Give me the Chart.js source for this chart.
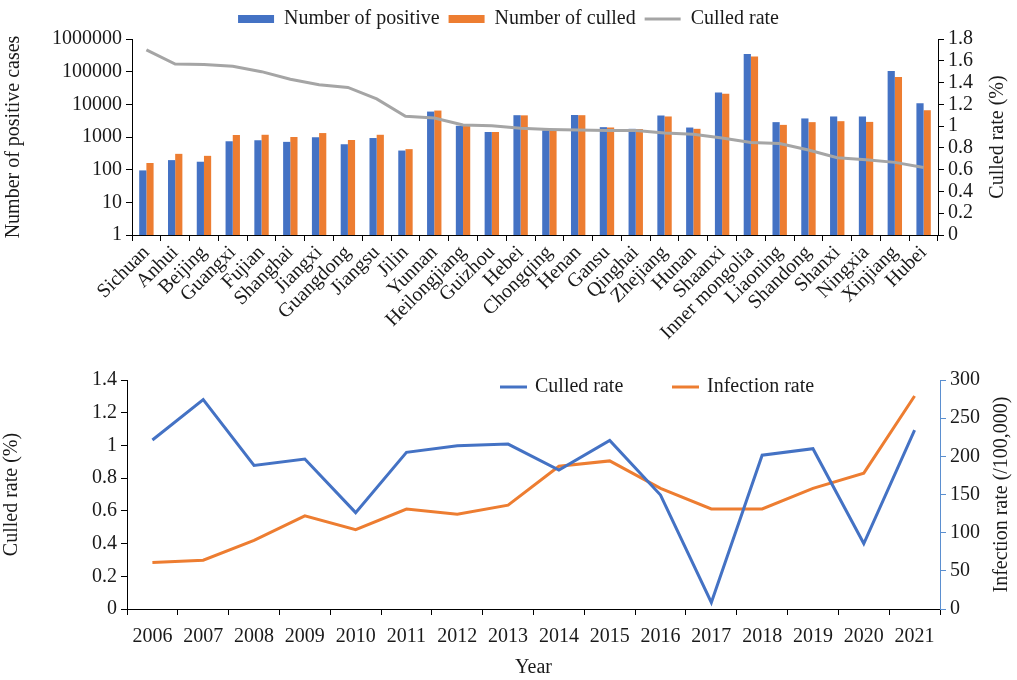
<!DOCTYPE html>
<html>
<head>
<meta charset="utf-8">
<script src="https://cdn.jsdelivr.net/npm/chart.js@4"></script>
<style>
  body { margin: 0; background: #fff; }
  #wrap { position: relative; width: 1017px; height: 680px; }
  #topBox { position: absolute; left: 0; top: 0; width: 1017px; height: 345px; }
  #botBox { position: absolute; left: 0; top: 345px; width: 1017px; height: 335px; }
</style>
</head>
<body>
<div id="wrap">
  <div id="topBox"><canvas id="provChart"></canvas></div>
  <div id="botBox"><canvas id="yearChart"></canvas></div>
</div>
<script>
// top chart data (by province)
const provinces = ['Sichuan', 'Anhui', 'Beijing', 'Guangxi', 'Fujian', 'Shanghai', 'Jiangxi', 'Guangdong', 'Jiangsu', 'Jilin',
    'Yunnan', 'Heilongjiang', 'Guizhou', 'Hebei', 'Chongqing', 'Henan', 'Gansu', 'Qinghai', 'Zhejiang', 'Hunan',
    'Shaanxi', 'Inner mongolia', 'Liaoning', 'Shandong', 'Shanxi', 'Ningxia', 'Xinjiang', 'Hubei'];
const positiveNum = [95, 196, 175, 740, 795, 710, 980, 600, 930, 385,
    6000, 2200, 1420, 4650, 1600, 4750, 2000, 1780, 4550, 1950,
    23000, 345000, 2850, 3700, 4250, 4250, 105000, 10700];
const culledNum = [160, 305, 265, 1150, 1170, 1000, 1320, 810, 1170, 425,
    6450, 2200, 1420, 4600, 1570, 4650, 1950, 1750, 4250, 1780,
    21000, 290000, 2350, 2850, 3050, 2900, 69000, 6600];
const provCulledRate = [1.70, 1.57, 1.566, 1.55, 1.50, 1.43, 1.38, 1.355, 1.25, 1.09,
    1.075, 1.01, 1.003, 0.98, 0.97, 0.964, 0.96, 0.96, 0.936, 0.925,
    0.89, 0.85, 0.84, 0.78, 0.71, 0.69, 0.667, 0.62];
const logTicks = [1, 10, 100, 1000, 10000, 100000, 1000000];

// bottom chart data (by year)
const years = ['2006', '2007', '2008', '2009', '2010', '2011', '2012', '2013',
    '2014', '2015', '2016', '2017', '2018', '2019', '2020', '2021'];
const yearCulledRate = [1.033, 1.28, 0.878, 0.917, 0.589, 0.958, 0.998, 1.008,
    0.85, 1.03, 0.697, 0.04, 0.94, 0.98, 0.40, 1.094];
const infectionRate = [61, 64, 90, 122, 104, 131, 124, 136,
    187, 194, 158, 131, 131, 158, 178, 279];

const BLUE = '#4472C4';
const ORANGE = '#ED7D31';
const GREY = '#A5A5A5';
const TXT = '#1a1a1a';
const FONT = "'Liberation Serif', 'Times New Roman', serif";

Chart.defaults.font.family = FONT;
Chart.defaults.font.size = 20;
Chart.defaults.color = TXT;
Chart.defaults.animation = false;

function oneDecimal(v) {
    return String(Math.round(v * 10) / 10);
}

// axis look shared by both charts: outward ticks, no gridlines inside
function axisGrid(col) {
    return { drawOnChartArea: false, drawTicks: true, tickLength: 6, color: col || '#000' };
}

// right axis title, read bottom-to-top like the left one
const rightTitle = {
    id: 'rightTitle',
    afterDraw(chart, args, opts) {
        if (!opts || !opts.text) return;
        const ctx = chart.ctx;
        const area = chart.chartArea;
        ctx.save();
        ctx.font = '20px ' + FONT;
        ctx.fillStyle = TXT;
        ctx.textAlign = 'center';
        ctx.textBaseline = 'middle';
        ctx.translate(chart.width - opts.offset, (area.top + area.bottom) / 2);
        ctx.rotate(-Math.PI / 2);
        ctx.fillText(opts.text, 0, 0);
        ctx.restore();
    }
};

const provChart = new Chart(document.getElementById('provChart'), {
    type: 'bar',
    data: {
        labels: provinces,
        datasets: [
            { label: 'Number of positive', data: positiveNum, backgroundColor: BLUE, yAxisID: 'y', order: 1,
              barPercentage: 1, categoryPercentage: 0.5, pointStyle: 'rect' },
            { label: 'Number of culled', data: culledNum, backgroundColor: ORANGE, yAxisID: 'y', order: 1,
              barPercentage: 1, categoryPercentage: 0.5, pointStyle: 'rect' },
            { type: 'line', label: 'Culled rate', data: provCulledRate, borderColor: GREY, backgroundColor: GREY,
              borderWidth: 3, pointRadius: 0, tension: 0, yAxisID: 'y1', order: 0, pointStyle: 'line' }
        ]
    },
    plugins: [rightTitle],
    options: {
        responsive: true,
        maintainAspectRatio: false,
        layout: { padding: { top: 0, bottom: 0, left: 0, right: 0 } },
        plugins: {
            legend: {
                position: 'top',
                labels: {
                    usePointStyle: true, pointStyleWidth: 36, boxHeight: 8, padding: 9, color: TXT,
                    sort: (a, b) => a.datasetIndex - b.datasetIndex
                }
            },
            tooltip: { enabled: false },
            rightTitle: { text: 'Culled rate (%)', offset: 19 }
        },
        scales: {
            x: {
                grid: axisGrid(),
                border: { color: '#000', width: 1 },
                ticks: { maxRotation: 45, minRotation: 45, autoSkip: false, padding: 0 },
                afterFit: s => { s.height = 110; }
            },
            y: {
                type: 'logarithmic',
                position: 'left',
                min: 1,
                max: 1000000,
                grid: axisGrid(),
                border: { color: '#000', width: 1 },
                afterBuildTicks: axis => { axis.ticks = logTicks.map(v => ({ value: v })); },
                ticks: { callback: v => String(v), padding: 4, autoSkip: false },
                title: { display: true, text: 'Number of positive cases', padding: { top: 2, bottom: 4 } },
                afterFit: s => { s.width = 132; }
            },
            y1: {
                position: 'right',
                min: 0,
                max: 1.8,
                grid: axisGrid(),
                border: { color: '#000', width: 1 },
                ticks: { stepSize: 0.2, callback: oneDecimal, padding: 4, autoSkip: false },
                afterFit: s => { s.width = 79; }
            }
        }
    }
});

// legend sitting inside the plot of the lower chart
const innerLegend = {
    id: 'innerLegend',
    afterDraw(chart) {
        const ctx = chart.ctx;
        const area = chart.chartArea;
        const y = area.top + 7;
        const items = [
            { x: area.left + 373, col: BLUE, text: chart.data.datasets[0].label },
            { x: area.left + 545, col: ORANGE, text: chart.data.datasets[1].label }
        ];
        ctx.save();
        ctx.font = '20px ' + FONT;
        ctx.textBaseline = 'middle';
        ctx.fillStyle = TXT;
        items.forEach(it => {
            ctx.strokeStyle = it.col;
            ctx.lineWidth = 3;
            ctx.beginPath();
            ctx.moveTo(it.x, y);
            ctx.lineTo(it.x + 27, y);
            ctx.stroke();
            ctx.fillText(it.text, it.x + 35, y);
        });
        ctx.restore();
    }
};

const yearChart = new Chart(document.getElementById('yearChart'), {
    type: 'line',
    data: {
        labels: years,
        datasets: [
            { label: 'Culled rate', data: yearCulledRate, borderColor: BLUE, backgroundColor: BLUE,
              borderWidth: 3, pointRadius: 0, tension: 0, yAxisID: 'y' },
            { label: 'Infection rate', data: infectionRate, borderColor: ORANGE, backgroundColor: ORANGE,
              borderWidth: 3, pointRadius: 0, tension: 0, yAxisID: 'y1' }
        ]
    },
    plugins: [innerLegend, rightTitle],
    options: {
        responsive: true,
        maintainAspectRatio: false,
        layout: { padding: { top: 35, bottom: 0, left: 0, right: 0 } },
        plugins: {
            legend: { display: false },
            tooltip: { enabled: false },
            rightTitle: { text: 'Infection rate (/100,000)', offset: 15 }
        },
        scales: {
            x: {
                offset: true,
                grid: Object.assign(axisGrid(), { offset: true }),
                border: { color: '#000', width: 1 },
                ticks: { maxRotation: 0, autoSkip: false, padding: 10 },
                title: { display: true, text: 'Year', padding: { top: 6, bottom: 0 } },
                afterFit: s => { s.height = 71; }
            },
            y: {
                position: 'left',
                min: 0,
                max: 1.4,
                grid: axisGrid(),
                border: { color: '#000', width: 1 },
                ticks: { stepSize: 0.2, callback: oneDecimal, padding: 4, autoSkip: false },
                title: { display: true, text: 'Culled rate (%)', padding: { top: 0, bottom: 4 } },
                afterFit: s => { s.width = 127; }
            },
            y1: {
                position: 'right',
                min: 0,
                max: 300,
                grid: axisGrid('#5b8fd0'),
                border: { color: '#5b8fd0', width: 1 },
                ticks: { stepSize: 50, padding: 4, autoSkip: false },
                afterFit: s => { s.width = 77; }
            }
        }
    }
});
</script>
</body>
</html>
